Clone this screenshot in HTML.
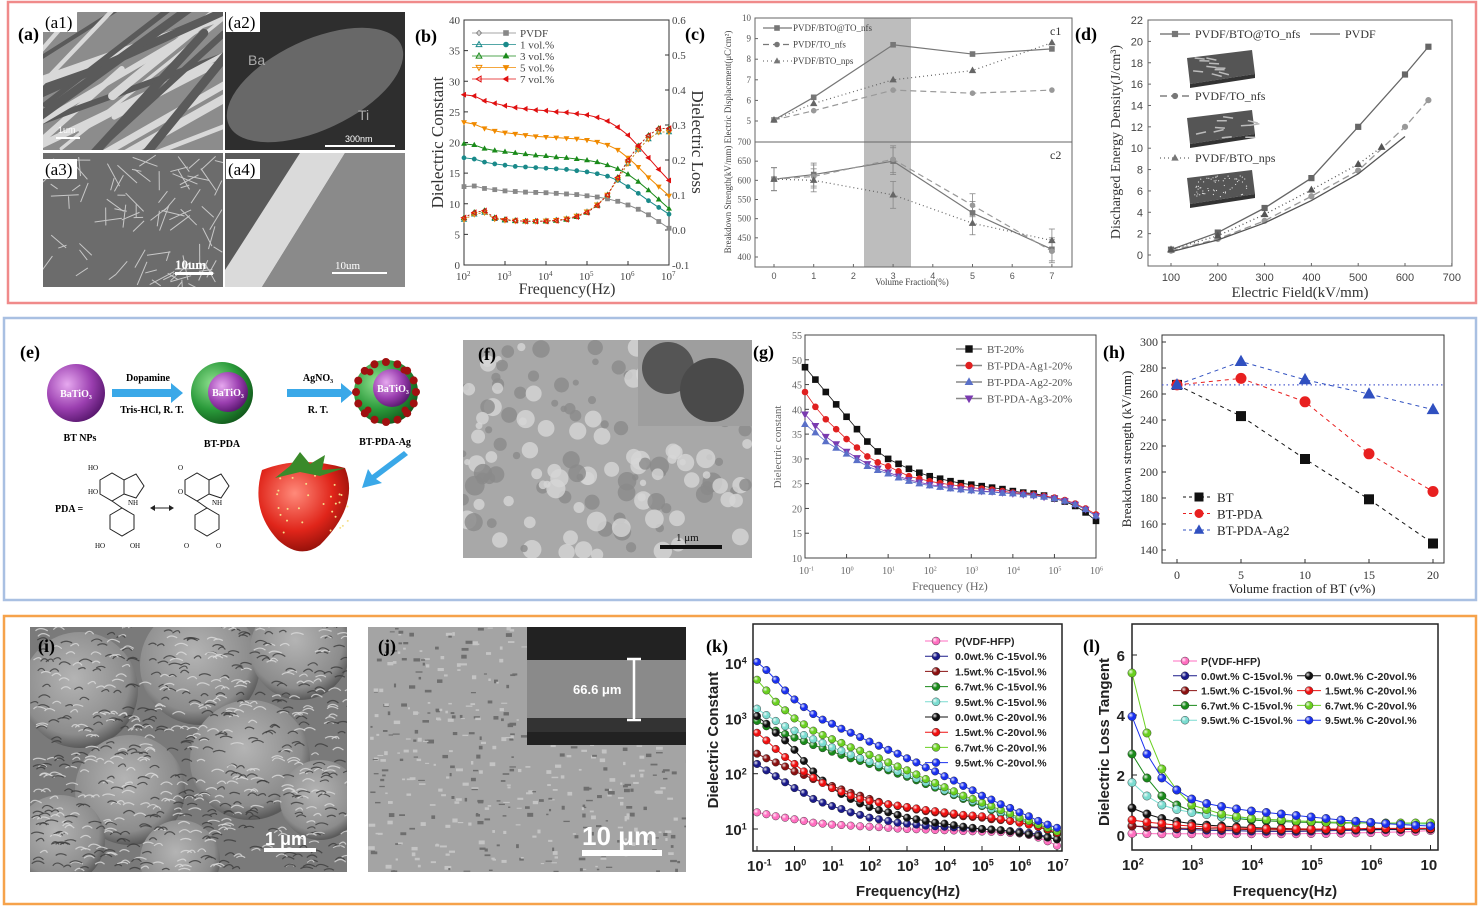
<!DOCTYPE html>
<html><head><meta charset="utf-8">
<style>
html,body{margin:0;padding:0;background:#fff;}
svg{display:block;}
.serif{font-family:"Liberation Serif",serif;}
.sans{font-family:"Liberation Sans",sans-serif;}
</style></head>
<body>
<svg id="fig" width="1480" height="906" viewBox="0 0 1480 906" xmlns="http://www.w3.org/2000/svg">
<defs>
<radialGradient id="gPurple" cx="35%" cy="35%" r="70%"><stop offset="0" stop-color="#e6a8ef"/><stop offset="0.6" stop-color="#9b3fb0"/><stop offset="1" stop-color="#5a1870"/></radialGradient>
<radialGradient id="gGreen" cx="35%" cy="35%" r="70%"><stop offset="0" stop-color="#8fe08f"/><stop offset="0.6" stop-color="#2a9a3a"/><stop offset="1" stop-color="#125a1c"/></radialGradient>
<radialGradient id="gRed" cx="40%" cy="35%" r="70%"><stop offset="0" stop-color="#ff8a7a"/><stop offset="0.6" stop-color="#e0251a"/><stop offset="1" stop-color="#8a0e08"/></radialGradient>
<radialGradient id="gBall" cx="35%" cy="35%" r="65%"><stop offset="0" stop-color="#fff" stop-opacity="0.9"/><stop offset="0.5" stop-color="#fff" stop-opacity="0"/></radialGradient>
<radialGradient id="gFlower" cx="45%" cy="40%" r="60%"><stop offset="0" stop-color="#b4b4b4"/><stop offset="0.8" stop-color="#8c8c8c"/><stop offset="1" stop-color="#5a5a5a"/></radialGradient>
</defs>
</svg>
<script>
// ---------- DATA ----------
// (b)
const bFreqLog=[2,2.25,2.5,2.75,3,3.25,3.5,3.75,4,4.25,4.5,4.75,5,5.25,5.5,5.75,6,6.25,6.5,6.75,7];
const bPVDF=[12.8,12.9,12.5,12.3,12.1,12,11.9,11.85,11.8,11.7,11.6,11.5,11.3,11.1,10.8,10.4,9.8,9.1,8.2,7.1,6.0];
const b1vol=[17.5,17.3,16.8,16.5,16.3,16.1,16,15.9,15.8,15.7,15.6,15.4,15.2,14.9,14.5,13.8,12.8,11.7,10.5,9.4,8.3];
const b3vol=[19.8,19.6,19.0,18.7,18.5,18.3,18.1,17.9,17.8,17.6,17.5,17.3,17.1,16.8,16.3,15.7,14.8,13.6,12.2,10.7,9.2];
const b5vol=[23.3,23,22.3,21.9,21.6,21.4,21.2,21.0,20.9,20.8,20.7,20.6,20.4,20.1,19.6,18.8,17.5,16,14.3,12.8,11.3];
const b7vol=[27.8,27.6,26.8,26.4,26.0,25.7,25.5,25.3,25.2,25.0,24.9,24.7,24.5,24.1,23.5,22.5,21.2,19.4,17.5,15.6,13.8];
const bLossA=[0.035,0.05,0.055,0.035,0.03,0.027,0.025,0.025,0.025,0.027,0.03,0.038,0.05,0.07,0.1,0.15,0.2,0.24,0.27,0.29,0.29];
const bLossB=[0.03,0.045,0.05,0.032,0.028,0.026,0.025,0.025,0.026,0.028,0.032,0.04,0.052,0.072,0.1,0.145,0.19,0.23,0.26,0.28,0.28];
const bYTicks=[0,5,10,15,20,25,30,35,40];
const bY2Ticks=[-0.1,0.0,0.1,0.2,0.3,0.4,0.5,0.6];
const bXTicks=[2,3,4,5,6,7];
// (c)
const cX=[0,1,3,5,7];
const cD_BTOTO=[5.05,6.15,8.7,8.25,8.5];
const cD_TO=[5.05,5.5,6.5,6.35,6.5];
const cD_NPS=[5.05,5.85,7.0,7.45,8.8];
const cE_BTOTO=[603,615,650,515,420];
const cE_TO=[603,610,655,535,415];
const cE_NPS=[603,600,562,488,443];
const cErr=[30,30,35,30,30];
const cY1Ticks=[5,6,7,8,9,10];
const cY2Ticks=[400,450,500,550,600,650,700];
const cXTicks=[0,1,2,3,4,5,6,7];
// (d)
const dX_BTOTO=[100,200,300,400,500,600,650];
const dY_BTOTO=[0.5,2.1,4.4,7.2,12.0,16.9,19.5];
const dX_TO=[100,200,300,400,500,600,650];
const dY_TO=[0.4,1.5,3.2,5.5,7.9,12.0,14.5];
const dX_NPS=[100,200,300,400,500,550];
const dY_NPS=[0.5,1.8,3.8,6.1,8.5,10.1];
const dX_PVDF=[100,200,300,400,500,600];
const dY_PVDF=[0.3,1.4,3.0,5.1,7.6,11.1];
const dYTicks=[0,2,4,6,8,10,12,14,16,18,20,22];
const dXTicks=[100,200,300,400,500,600,700];
// (g)
const gFreqLog=[-1,-0.75,-0.5,-0.25,0,0.25,0.5,0.75,1,1.25,1.5,1.75,2,2.25,2.5,2.75,3,3.25,3.5,3.75,4,4.25,4.5,4.75,5,5.25,5.5,5.75,6];
const gBT=[48.5,46,43.5,41,38.5,36,33.5,31.5,30,29,28,27.2,26.5,26,25.5,25.1,24.8,24.5,24.2,23.9,23.5,23.2,23,22.6,22,21.4,20.5,19.2,17.5];
const gAg1=[43.5,40.5,38,36,34,32.3,30.5,29.3,28.5,27.5,26.5,26,25.5,25.1,24.8,24.5,24.2,24,23.8,23.5,23.2,23,22.8,22.5,22.2,21.7,21,20,18.8];
const gAg2=[37,35.3,33.5,32.2,31,29.7,28.5,27.7,27,26.2,25.5,25,24.6,24.3,24,23.8,23.6,23.4,23.3,23.1,23,22.8,22.6,22.3,22,21.5,20.8,19.8,18.5];
const gAg3=[39,36.7,34.5,33,31.5,30.2,29,28.1,27.3,26.5,25.8,25.3,24.8,24.5,24.2,23.9,23.7,23.5,23.4,23.2,23,22.8,22.6,22.3,22,21.5,20.8,19.8,18.5];
const gYTicks=[10,15,20,25,30,35,40,45,50,55];
const gXTicks=[-1,0,1,2,3,4,5,6];
// (h)
const hX=[0,5,10,15,20];
const hBT=[267,243,210,179,145];
const hPDA=[267,272,254,214,185];
const hAg2=[267,285,271,260,248];
const hRef=267;
const hYTicks=[140,160,180,200,220,240,260,280,300];
const hXTicks=[0,5,10,15,20];
// (k)
const kFreqLog=[-1,-0.75,-0.5,-0.25,0,0.25,0.5,0.75,1,1.25,1.5,1.75,2,2.25,2.5,2.75,3,3.25,3.5,3.75,4,4.25,4.5,4.75,5,5.25,5.5,5.75,6,6.25,6.5,6.75,7];
const kP=[20,18.5,17,16,15,14,13,12.5,12,11.8,11.5,11.2,11,10.8,10.5,10.2,10,9.9,9.8,9.6,9.5,9.4,9.2,9.1,9,8.9,8.8,8.5,8.3,7.8,7,6,5];
const k00_15=[150,115,90,70,55,45,35,30,26,23,20,18,16,15,14,13,12.5,12,11.5,11.2,11,10.7,10.5,10.2,10,9.8,9.5,9.2,9,8.5,8,7.2,6.5];
const k15_15=[230,190,160,135,110,95,80,70,60,52,45,40,35,31,28,26,24,22.5,21,20,19,18,17,16.5,16,15,14.5,14,13,12,11,9.5,8];
const k67_15=[900,720,600,520,450,390,330,290,250,220,190,170,150,130,115,100,88,76,65,56,48,41,35,30,26,22,19,17,15,13,11,9.5,8];
const k95_15=[1500,1150,900,720,600,500,420,360,300,260,220,190,165,145,125,110,95,82,70,60,50,43,37,32,27,23,20,17,15,13.5,12,10.5,9];
const k00_20=[1100,800,550,400,270,170,110,75,55,43,35,29,25,22,20,18,16,15,14,13,12.5,11.7,11,10.5,10,9.7,9.5,9,8.5,8,7.5,7,6.5];
const k15_20=[550,400,280,200,150,110,85,68,55,47,40,35,32,30,28,26.5,25,23.5,22,21,20,19,18,17.5,17,16,15,14,13,12,11,9.8,8.5];
const k67_20=[5000,3200,2000,1400,1000,780,600,500,420,360,300,260,220,190,160,135,115,97,80,68,57,48,40,35,30,26,22,19,16,14,12,10.5,9];
const k95_20=[10500,7500,5000,3200,2200,1600,1200,950,800,650,550,460,380,320,270,230,190,160,130,110,90,75,60,50,40,34,28,24,20,17,14,12,10.5];
const kYTicks=[1,2,3,4];
const kXTicks=[-1,0,1,2,3,4,5,6,7];
// (l)
const lFreqLog=[2,2.25,2.5,2.75,3,3.25,3.5,3.75,4,4.25,4.5,4.75,5,5.25,5.5,5.75,6,6.25,6.5,6.75,7];
const lP=[0.05,0.045,0.04,0.04,0.04,0.04,0.04,0.04,0.04,0.04,0.04,0.04,0.05,0.05,0.06,0.07,0.08,0.09,0.1,0.12,0.15];
const l00_15=[0.3,0.26,0.22,0.2,0.18,0.16,0.15,0.14,0.13,0.12,0.12,0.12,0.13,0.14,0.15,0.16,0.17,0.18,0.18,0.19,0.2];
const l15_15=[0.3,0.28,0.25,0.23,0.22,0.21,0.2,0.19,0.18,0.17,0.17,0.17,0.17,0.18,0.18,0.19,0.2,0.21,0.22,0.22,0.22];
const l67_15=[2.7,1.9,1.3,1.0,0.8,0.7,0.6,0.55,0.5,0.47,0.45,0.43,0.42,0.41,0.4,0.4,0.4,0.39,0.38,0.38,0.38];
const l95_15=[1.75,1.3,1.0,0.85,0.75,0.68,0.6,0.57,0.55,0.52,0.5,0.47,0.45,0.43,0.42,0.41,0.4,0.39,0.38,0.37,0.36];
const l00_20=[0.9,0.7,0.55,0.45,0.38,0.33,0.3,0.27,0.25,0.23,0.22,0.21,0.2,0.2,0.2,0.2,0.2,0.2,0.2,0.2,0.2];
const l15_20=[0.5,0.43,0.38,0.33,0.3,0.27,0.25,0.23,0.22,0.21,0.2,0.2,0.2,0.2,0.2,0.21,0.22,0.22,0.22,0.22,0.22];
const l67_20=[5.4,3.4,2.2,1.5,1.0,0.85,0.7,0.62,0.55,0.52,0.5,0.47,0.45,0.43,0.42,0.41,0.4,0.4,0.4,0.4,0.4];
const l95_20=[3.95,2.7,1.9,1.5,1.2,1.05,0.95,0.87,0.8,0.75,0.7,0.65,0.6,0.55,0.5,0.46,0.42,0.38,0.35,0.32,0.3];
const lYTicks=[0,2,4,6];
const lXTicks=[2,3,4,5,6,7];

// ---------- HELPERS ----------
const NS='http://www.w3.org/2000/svg';
const svg=document.getElementById('fig');
function el(tag,a,p){const e=document.createElementNS(NS,tag);for(const k in a)e.setAttribute(k,a[k]);(p||svg).appendChild(e);return e;}
function grp(name,p){const g=el('g',{},p);


return g;}
function txt(p,x,y,s,a){const t=el('text',Object.assign({x:x,y:y},a||{}),p);t.textContent=s;return t;}
function supTxt(p,x,y,base,sup,a,supSize){const t=el('text',Object.assign({x:x,y:y},a||{}),p);
const s1=el('tspan',{},t);s1.textContent=base;
const s2=el('tspan',{dy:-(supSize*0.6),'font-size':supSize},t);s2.textContent=sup;return t;}
let seed=7;function rnd(){seed=(seed*16807)%2147483647;return seed/2147483647;}
function marker(p,type,x,y,r,color,filled,sw){
 const f=filled?color:'none', s=color, w=sw||1;let m;
 if(type==='sq') m=el('rect',{x:x-r,y:y-r,width:2*r,height:2*r,fill:f,stroke:s,'stroke-width':w},p);
 else if(type==='ci') m=el('circle',{cx:x,cy:y,r:r,fill:f,stroke:s,'stroke-width':w},p);
 else if(type==='tr') m=el('polygon',{points:`${x},${y-r*1.15} ${x-r*1.1},${y+r*0.8} ${x+r*1.1},${y+r*0.8}`,fill:f,stroke:s,'stroke-width':w},p);
 else if(type==='td') m=el('polygon',{points:`${x},${y+r*1.15} ${x-r*1.1},${y-r*0.8} ${x+r*1.1},${y-r*0.8}`,fill:f,stroke:s,'stroke-width':w},p);
 else if(type==='tl') m=el('polygon',{points:`${x-r*1.15},${y} ${x+r*0.8},${y-r*1.1} ${x+r*0.8},${y+r*1.1}`,fill:f,stroke:s,'stroke-width':w},p);
 else if(type==='di') m=el('polygon',{points:`${x},${y-r} ${x+r},${y} ${x},${y+r} ${x-r},${y}`,fill:f,stroke:s,'stroke-width':w},p);
 else if(type==='ball'){m=el('circle',{cx:x,cy:y,r:r,fill:color,stroke:'#222','stroke-width':0.4},p);el('circle',{cx:x,cy:y,r:r,fill:'url(#gBall)'},p);}
 return m;}
function series(p,name,xs,ys,sx,sy,color,mtype,r,filled,dash,lw){
 const g=grp(name,p);
 const pts=xs.map((v,i)=>sx(v)+','+sy(ys[i])).join(' ');
 if(lw!==0){const l=el('polyline',{points:pts,fill:'none',stroke:color,'stroke-width':lw||1},g);if(dash)l.setAttribute('stroke-dasharray',dash);
 
 }
 if(mtype) xs.forEach((v,i)=>{const m=marker(g,mtype,sx(v),sy(ys[i]),r,color,filled);
 
 });
 return g;}
function frame(p,x0,y0,x1,y1,c,w){const r=el('rect',{x:x0,y:y0,width:x1-x0,height:y1-y0,fill:'none',stroke:c||'#333','stroke-width':w||1},p);

return r;}
function panelLabel(x,y,s,cls){const t=txt(svg,x,y,s,{'font-size':18,'font-weight':'bold',class:cls||'serif',fill:'#000'});

}

// ---------- BORDERS ----------
[[8,2,1468,301,'#f08a8a'],[4,318,1472,282,'#a9c0e2'],[4,616,1472,288,'#f6a24a']].forEach((b,i)=>{
 const r=el('rect',{x:b[0],y:b[1],width:b[2],height:b[3],fill:'none',stroke:b[4],'stroke-width':2.5});
 
 });

// ---------- PHOTOS ----------
function photo(name,x,y,w,h,bg,kind){
 const g=grp(name);
 el('rect',{x:x,y:y,width:w,height:h,fill:bg},g);
 const cp='cp'+name;const c=el('clipPath',{id:cp},g);el('rect',{x:x,y:y,width:w,height:h},c);
 const gg=el('g',{'clip-path':`url(#${cp})`},g);
 if(kind==='fibers'){for(let i=0;i<22;i++){const x1=x+rnd()*w,y1=y+rnd()*h;const a=-0.9+rnd()*0.6;const L=80+rnd()*120;
  el('line',{x1:x1-L*Math.cos(a),y1:y1-L*Math.sin(a),x2:x1+L*Math.cos(a),y2:y1+L*Math.sin(a),stroke:rnd()>0.5?'#d8d8d8':'#5a5a5a','stroke-width':3+rnd()*6,'stroke-linecap':'round'},gg);}}
 else if(kind==='needles'){for(let i=0;i<90;i++){const x1=x+rnd()*w,y1=y+rnd()*h,a=rnd()*3.14,L=8+rnd()*20;
  el('line',{x1:x1,y1:y1,x2:x1+L*Math.cos(a),y2:y1+L*Math.sin(a),stroke:'#c8c8c8','stroke-width':1},gg);}}
 else if(kind==='bubbles'){for(let i=0;i<160;i++){el('circle',{cx:x+rnd()*w,cy:y+rnd()*h,r:3+rnd()*7,fill:rnd()>0.5?'#d6d6d6':'#8a8a8a',opacity:0.8},gg);}}
 else if(kind==='flowers'){const cs=[[80,690,58],[200,665,60],[300,650,50],[130,790,55],[250,760,60],[60,840,45],[320,800,40],[180,860,40]];
  cs.forEach(cc=>{el('circle',{cx:cc[0],cy:cc[1],r:cc[2],fill:'url(#gFlower)'},gg);});
  for(let k=0;k<700;k++){const px=x+rnd()*w,py=y+rnd()*h;
   el('path',{d:`M${px} ${py} q${3+rnd()*4} ${-3-rnd()*3} ${7+rnd()*6} 0`,stroke:rnd()>0.5?'#dcdcdc':'#3c3c3c','stroke-width':1.2,fill:'none',opacity:0.8},gg);}}
 else if(kind==='rough'){for(let i=0;i<500;i++){el('rect',{x:x+rnd()*w,y:y+rnd()*h,width:2+rnd()*5,height:1+rnd()*3,fill:rnd()>0.5?'#c4c4c4':'#6e6e6e'},gg);}}
 return g;}
photo('photo-a1',43,12,180,138,'#8c8c8c','fibers');
photo('photo-a2',225,12,180,138,'#2e2e2e','none');
el('ellipse',{cx:315,cy:85,rx:95,ry:45,fill:'#777',transform:'rotate(-25 315 85)',opacity:0.8});
photo('photo-a3',43,153,180,134,'#6c6c6c','needles');
photo('photo-a4',225,153,180,134,'#5a5a5a','none');
el('polygon',{points:'300,153 345,153 262,287 225,287 225,270',fill:'#e8e8e8',opacity:0.9});
el('polygon',{points:'345,153 405,153 405,287 262,287',fill:'#8a8a8a'});
[['(a1)',45,28],['(a2)',228,28],['(a3)',45,175],['(a4)',228,175]].forEach(l=>{
 el('rect',{x:l[1]-2,y:l[2]-16,width:34,height:20,fill:'#fff'});
 const t=txt(svg,l[1],l[2],l[0],{'font-size':17,class:'serif'});
 
 });
txt(svg,248,65,'Ba',{'font-size':14,fill:'#aaa',class:'sans'});
txt(svg,358,120,'Ti',{'font-size':14,fill:'#aaa',class:'sans'});
el('line',{x1:325,y1:146,x2:395,y2:146,stroke:'#fff','stroke-width':2});
txt(svg,345,142,'300nm',{'font-size':9,fill:'#fff',class:'sans'});
el('line',{x1:56,y1:138,x2:80,y2:138,stroke:'#fff','stroke-width':2});
txt(svg,58,133,'1um',{'font-size':9,fill:'#fff',class:'sans'});
el('rect',{x:175,y:272,width:38,height:3,fill:'#fff'});
txt(svg,175,269,'10um',{'font-size':13,'font-weight':'bold',fill:'#fff',class:'serif'});
el('rect',{x:332,y:272,width:55,height:2,fill:'#fff'});
txt(svg,335,269,'10um',{'font-size':11,fill:'#fff',class:'serif'});
panelLabel(18,40,'(a)');

photo('photo-f',463,340,289,218,'#a8a8a8','bubbles');
photo('photo-f-inset',638,340,114,86,'#9e9e9e','none');
el('circle',{cx:668,cy:368,r:26,fill:'#555'});el('circle',{cx:712,cy:390,r:32,fill:'#4a4a4a'});
el('rect',{x:660,y:545,width:62,height:4,fill:'#111'});
txt(svg,676,541,'1 μm',{'font-size':11,fill:'#111',class:'serif'});
panelLabel(478,360,'(f)');

photo('photo-i',30,627,317,245,'#7a7a7a','flowers');
el('rect',{x:264,y:848,width:52,height:4,fill:'#fff'});
txt(svg,265,845,'1 μm',{'font-size':18,'font-weight':'bold',fill:'#fff',class:'sans'});
panelLabel(38,652,'(i)');
photo('photo-j',368,627,318,245,'#a4a4a4','rough');
const jin=grp('photo-j-inset');
el('rect',{x:527,y:627,width:159,height:118,fill:'#222'},jin);
el('rect',{x:527,y:660,width:159,height:58,fill:'#8a8a8a'},jin);
el('rect',{x:527,y:718,width:159,height:14,fill:'#333'},jin);
el('line',{x1:634,y1:659,x2:634,y2:720,stroke:'#fff','stroke-width':2.5},jin);
el('line',{x1:627,y1:659,x2:641,y2:659,stroke:'#fff','stroke-width':2.5},jin);
el('line',{x1:627,y1:720,x2:641,y2:720,stroke:'#fff','stroke-width':2.5},jin);
txt(jin,573,694,'66.6 μm',{'font-size':13,'font-weight':'bold',fill:'#fff',class:'sans'});
el('rect',{x:582,y:850,width:80,height:6,fill:'#fff'});
txt(svg,582,845,'10 μm',{'font-size':26,'font-weight':'bold',fill:'#fff',class:'sans'});
panelLabel(378,652,'(j)');

// ---------- (e) schematic ----------
(function(){
 const g=grp('schematic-e');
 function arrow(x1,x2,y){el('polygon',{points:`${x1},${y-4} ${x2-12},${y-4} ${x2-12},${y-10} ${x2},${y} ${x2-12},${y+10} ${x2-12},${y+4} ${x1},${y+4}`,fill:'#3aa8e8'},g);}
 el('circle',{cx:76,cy:393,r:29,fill:'url(#gPurple)'},g);
 txt(g,76,397,'BaTiO₃',{'font-size':10,'font-weight':'bold',fill:'#fff','text-anchor':'middle',class:'serif'});
 arrow(112,183,393);
 txt(g,148,381,'Dopamine',{'font-size':10,'font-weight':'bold','text-anchor':'middle',class:'serif'});
 txt(g,152,413,'Tris-HCl, R. T.',{'font-size':10,'font-weight':'bold','text-anchor':'middle',class:'serif'});
 el('circle',{cx:222,cy:393,r:31,fill:'url(#gGreen)'},g);
 el('circle',{cx:228,cy:392,r:20,fill:'url(#gPurple)'},g);
 txt(g,228,396,'BaTiO₃',{'font-size':10,'font-weight':'bold',fill:'#fff','text-anchor':'middle',class:'serif'});
 arrow(287,353,393);
 txt(g,318,381,'AgNO₃',{'font-size':10,'font-weight':'bold','text-anchor':'middle',class:'serif'});
 txt(g,318,413,'R. T.',{'font-size':10,'font-weight':'bold','text-anchor':'middle',class:'serif'});
 el('circle',{cx:386,cy:392,r:32,fill:'url(#gGreen)'},g);
 el('circle',{cx:392,cy:388,r:19,fill:'url(#gPurple)'},g);
 txt(g,393,392,'BaTiO₃',{'font-size':10,'font-weight':'bold',fill:'#fff','text-anchor':'middle',class:'serif'});
 for(let i=0;i<16;i++){const a=i/16*6.28;el('circle',{cx:386+30*Math.cos(a),cy:392+30*Math.sin(a),r:4,fill:'#a01010'},g);}
 [[370,372],[405,410],[368,410],[404,370]].forEach(p=>el('circle',{cx:p[0],cy:p[1],r:3.5,fill:'#a01010'},g));
 txt(g,80,441,'BT NPs',{'font-size':10,'font-weight':'bold','text-anchor':'middle',class:'serif'});
 txt(g,222,447,'BT-PDA',{'font-size':10,'font-weight':'bold','text-anchor':'middle',class:'serif'});
 txt(g,385,445,'BT-PDA-Ag',{'font-size':10,'font-weight':'bold','text-anchor':'middle',class:'serif'});
 el('polygon',{points:'408,455 404,451 372,475 368,469 362,488 382,483 376,479',fill:'#3aa8e8'},g);
 el('path',{d:'M262 470 Q300 455 345 468 Q360 505 320 545 Q300 560 278 540 Q250 510 262 470Z',fill:'url(#gRed)'},g);
 for(let i=0;i<30;i++)el('circle',{cx:268+rnd()*80,cy:470+rnd()*70,r:1,fill:'#f6e08a'},g);
 el('path',{d:'M290 466 L300 452 L310 464 L325 455 L322 470 L345 468 L320 476 L300 472 L275 478Z',fill:'#3a8a2a'},g);
 txt(g,55,512,'PDA =',{'font-size':10,'font-weight':'bold',class:'serif'});
 [[100,480],[185,480]].forEach(o=>{
  el('polygon',{points:`${o[0]},${o[1]} ${o[0]+12},${o[1]-7} ${o[0]+24},${o[1]} ${o[0]+24},${o[1]+14} ${o[0]+12},${o[1]+21} ${o[0]},${o[1]+14}`,fill:'none',stroke:'#222'},g);
  el('polygon',{points:`${o[0]+10},${o[1]+35} ${o[0]+22},${o[1]+28} ${o[0]+34},${o[1]+35} ${o[0]+34},${o[1]+49} ${o[0]+22},${o[1]+56} ${o[0]+10},${o[1]+49}`,fill:'none',stroke:'#222'},g);
  el('polyline',{points:`${o[0]+24},${o[1]} ${o[0]+36},${o[1]-6} ${o[0]+44},${o[1]+6} ${o[0]+36},${o[1]+18} ${o[0]+24},${o[1]+14}`,fill:'none',stroke:'#222'},g);
  el('line',{x1:o[0]+12,y1:o[1]+21,x2:o[0]+22,y2:o[1]+28,stroke:'#222'},g);});
 txt(g,88,470,'HO',{'font-size':7,class:'serif'});txt(g,88,494,'HO',{'font-size':7,class:'serif'});
 txt(g,178,470,'O',{'font-size':7,class:'serif'});txt(g,178,494,'O',{'font-size':7,class:'serif'});
 txt(g,95,548,'HO',{'font-size':7,class:'serif'});txt(g,130,548,'OH',{'font-size':7,class:'serif'});
 txt(g,184,548,'O',{'font-size':7,class:'serif'});txt(g,216,548,'O',{'font-size':7,class:'serif'});
 txt(g,128,505,'NH',{'font-size':7,class:'serif'});txt(g,212,505,'NH',{'font-size':7,class:'serif'});
 el('line',{x1:152,y1:508,x2:172,y2:508,stroke:'#222'},g);
 el('polygon',{points:'150,508 155,505 155,511',fill:'#222'},g);el('polygon',{points:'174,508 169,505 169,511',fill:'#222'},g);
})();
panelLabel(20,358,'(e)');

// ---------- (b) ----------
(function(){
 const g=grp('chart-b');
 const x0=464,x1=669,y0=20,y1=265;
 const sx=v=>x0+(v-2)*(x1-x0)/5, sy=v=>y1-v*6.125, sy2=v=>y1-(v+0.1)*(y1-y0)/0.7;
 frame(g,x0,y0,x1,y1,'#333');
 bYTicks.forEach(v=>{el('line',{x1:x0,y1:sy(v),x2:x0+4,y2:sy(v),stroke:'#333'},g);txt(g,x0-4,sy(v)+4,String(v),{'font-size':11,'text-anchor':'end',fill:'#444',class:'serif'});});
 bY2Ticks.forEach(v=>{el('line',{x1:x1,y1:sy2(v),x2:x1-4,y2:sy2(v),stroke:'#333'},g);txt(g,x1+3,sy2(v)+4,v.toFixed(1),{'font-size':11,fill:'#444',class:'serif'});});
 bXTicks.forEach(v=>{el('line',{x1:sx(v),y1:y1,x2:sx(v),y2:y1-4,stroke:'#333'},g);supTxt(g,sx(v)-8,y1+15,'10',String(v),{'font-size':11,fill:'#444',class:'serif'},7);});
 const ser=[['PVDF',bPVDF,'#888','sq',bLossA,'di'],['1vol',b1vol,'#1a8a8a','ci',bLossB,'tr'],['3vol',b3vol,'#1a8a1a','tr',bLossA,'tr'],['5vol',b5vol,'#f08a00','td',bLossB,'td'],['7vol',b7vol,'#e01010','tl',bLossA,'tl']];
 ser.forEach(s=>{series(g,'dielectric-constant-'+s[0],bFreqLog,s[1],sx,sy,s[2],s[3],1.9,true,null,1);
  series(g,'dielectric-loss-'+s[0],bFreqLog,s[4],sx,sy2,s[2],s[5],2.2,false,'2,2',0.8);});
 const labels=['PVDF','1 vol.%','3 vol.%','5 vol.%','7 vol.%'];
 ser.forEach((s,i)=>{const y=33+i*11.5;const lg=grp('legend-entry',g);
  el('line',{x1:472,y1:y,x2:516,y2:y,stroke:s[2],'stroke-width':0.8},lg);
  marker(lg,s[5],479,y,2.6,s[2],false);marker(lg,s[3],506,y,2.3,s[2],true);
  txt(lg,520,y+4,labels[i],{'font-size':11,fill:'#444',class:'serif'});});
 txt(g,0,0,'Dielectric Constant',{'font-size':17,fill:'#333',class:'serif','text-anchor':'middle',transform:`translate(443,${(y0+y1)/2}) rotate(-90)`});
 txt(g,0,0,'Dielectric Loss',{'font-size':17,fill:'#333',class:'serif','text-anchor':'middle',transform:`translate(692,142) rotate(90)`});
 txt(g,567,294,'Frequency(Hz)',{'font-size':16,fill:'#333',class:'serif','text-anchor':'middle'});
})();
panelLabel(415,42,'(b)');

// ---------- (c) ----------
(function(){
 const g=grp('chart-c');
 const x0=755,x1=1072,y0=18,ym=142,y1=267;
 const sx=v=>774+v*39.7, sy1=v=>y0+(10-v)*20.6, sy2=v=>ym+(700-v)*0.3833;
 const band=el('rect',{x:864,y:y0,width:47,height:y1-y0,fill:'#bdbdbd'},g);
 
 
 frame(g,x0,y0,x1,y1,'#666');
 el('line',{x1:x0,y1:ym,x2:x1,y2:ym,stroke:'#666'},g);
 cY1Ticks.forEach(v=>{el('line',{x1:x0,y1:sy1(v),x2:x0+3,y2:sy1(v),stroke:'#666'},g);txt(g,x0-4,sy1(v)+3,String(v),{'font-size':9,'text-anchor':'end',fill:'#555',class:'serif'});});
 cY2Ticks.forEach(v=>{el('line',{x1:x0,y1:sy2(v),x2:x0+3,y2:sy2(v),stroke:'#666'},g);txt(g,x0-4,sy2(v)+3,String(v),{'font-size':9,'text-anchor':'end',fill:'#555',class:'serif'});});
 cXTicks.forEach(v=>{el('line',{x1:sx(v),y1:y1,x2:sx(v),y2:y1-3,stroke:'#666'},g);txt(g,sx(v),y1+12,String(v),{'font-size':9,'text-anchor':'middle',fill:'#555',class:'sans'});});
 series(g,'displacement-bto-at-to',cX,cD_BTOTO,sx,sy1,'#777','sq',2.3,true,null,1.2);
 series(g,'displacement-to',cX,cD_TO,sx,sy1,'#999','ci',2.3,true,'6,4',1.2);
 series(g,'displacement-bto-nps',cX,cD_NPS,sx,sy1,'#666','tr',2.6,true,'1,3',1.2);
 const eb=grp('error-bars',g);
 [cE_BTOTO,cE_TO,cE_NPS].forEach(arr=>cX.forEach((v,i)=>{el('line',{x1:sx(v),y1:sy2(arr[i]-cErr[i]),x2:sx(v),y2:sy2(arr[i]+cErr[i]),stroke:'#888','stroke-width':0.8},eb);
  el('line',{x1:sx(v)-3,y1:sy2(arr[i]-cErr[i]),x2:sx(v)+3,y2:sy2(arr[i]-cErr[i]),stroke:'#888','stroke-width':0.8},eb);
  el('line',{x1:sx(v)-3,y1:sy2(arr[i]+cErr[i]),x2:sx(v)+3,y2:sy2(arr[i]+cErr[i]),stroke:'#888','stroke-width':0.8},eb);}));
 series(g,'breakdown-bto-at-to',cX,cE_BTOTO,sx,sy2,'#777','sq',2.3,true,null,1.2);
 series(g,'breakdown-to',cX,cE_TO,sx,sy2,'#999','ci',2.3,true,'6,4',1.2);
 series(g,'breakdown-bto-nps',cX,cE_NPS,sx,sy2,'#666','tr',2.6,true,'1,3',1.2);
 [['PVDF/BTO@TO_nfs','sq',null],['PVDF/TO_nfs','ci','6,4'],['PVDF/BTO_nps','tr','1,3']].forEach((l,i)=>{const y=28+i*16.5;const lg=grp('legend-entry',g);
  const ln=el('line',{x1:763,y1:y,x2:792,y2:y,stroke:'#777','stroke-width':1.2},lg);if(l[2])ln.setAttribute('stroke-dasharray',l[2]);
  marker(lg,l[1],777,y,2.3,'#777',true);txt(lg,793,y+3,l[0],{'font-size':9,fill:'#444',class:'serif'});});
 txt(g,1050,35,'c1',{'font-size':12,fill:'#333',class:'serif'});
 txt(g,1050,159,'c2',{'font-size':12,fill:'#333',class:'serif'});
 txt(g,0,0,'Breakdown Strength(kV/mm) Electric Displacement(μC/cm²)',{'font-size':9,fill:'#444',class:'serif','text-anchor':'middle',transform:'translate(731,142) rotate(-90)'});
 txt(g,912,285,'Volume Fraction(%)',{'font-size':9,fill:'#444',class:'serif','text-anchor':'middle'});
})();
panelLabel(685,40,'(c)');

// ---------- (d) ----------
(function(){
 const g=grp('chart-d');
 const x0=1148,x1=1452,y0=20,y1=266;
 const sx=v=>1171+(v-100)*0.468, sy=v=>255-v*10.68;
 frame(g,x0,y0,x1,y1,'#666');
 dYTicks.forEach(v=>{el('line',{x1:x0,y1:sy(v),x2:x0+3,y2:sy(v),stroke:'#666'},g);txt(g,x0-5,sy(v)+4,String(v),{'font-size':11,'text-anchor':'end',fill:'#444',class:'sans'});});
 dXTicks.forEach(v=>{el('line',{x1:sx(v),y1:y1,x2:sx(v),y2:y1-3,stroke:'#666'},g);txt(g,sx(v),y1+15,String(v),{'font-size':11,'text-anchor':'middle',fill:'#444',class:'sans'});});
 series(g,'energy-bto-at-to',dX_BTOTO,dY_BTOTO,sx,sy,'#666','sq',2.6,true,null,1.3);
 series(g,'energy-to',dX_TO,dY_TO,sx,sy,'#999','ci',2.6,true,'7,4',1.3);
 series(g,'energy-bto-nps',dX_NPS,dY_NPS,sx,sy,'#555','tr',2.8,true,'1,3',1.3);
 series(g,'energy-pvdf',dX_PVDF,dY_PVDF,sx,sy,'#555',null,0,true,null,1.3);
 [['PVDF/BTO@TO_nfs',1160,34,'sq',null],['PVDF',1310,34,null,null],['PVDF/TO_nfs',1160,96,'ci','7,4'],['PVDF/BTO_nps',1160,158,'tr','1,3']].forEach(l=>{const lg=grp('legend-entry',g);
  const ln=el('line',{x1:l[1],y1:l[2],x2:l[1]+30,y2:l[2],stroke:'#666','stroke-width':1.3},lg);if(l[4])ln.setAttribute('stroke-dasharray',l[4]);
  if(l[3])marker(lg,l[3],l[1]+15,l[2],2.6,'#777',true);txt(lg,l[1]+35,l[2]+4,l[0],{'font-size':12,fill:'#333',class:'serif'});});
 [[50,false],[110,false],[170,true]].forEach((f,i)=>{const fg=grp('film-illustration',g);const y=f[0];
  el('polygon',{points:`1187,${y+8} 1252,${y} 1255,${y+24} 1190,${y+34}`,fill:'#555'},fg);
  el('polygon',{points:`1190,${y+34} 1255,${y+24} 1255,${y+28} 1190,${y+38}`,fill:'#333'},fg);
  for(let k=0;k<(f[1]?60:10);k++){const px=1192+rnd()*58,py=y+6+rnd()*22;
   if(f[1])el('circle',{cx:px,cy:py,r:0.6,fill:'#ddd'},fg);else el('line',{x1:px,y1:py,x2:px+10,y2:py-3+rnd()*6,stroke:'#bbb','stroke-width':1.5},fg);}});
 txt(g,0,0,'Discharged Energy Density(J/cm³)',{'font-size':14,fill:'#333',class:'serif','text-anchor':'middle',transform:'translate(1120,142) rotate(-90)'});
 txt(g,1300,297,'Electric Field(kV/mm)',{'font-size':15,fill:'#333',class:'serif','text-anchor':'middle'});
})();
panelLabel(1075,40,'(d)');

// ---------- (g) ----------
(function(){
 const g=grp('chart-g');
 const x0=805,x1=1096,y0=335,y1=558;
 const sx=v=>x0+(v+1)*(x1-x0)/7, sy=v=>y1-(v-10)*(y1-y0)/45;
 frame(g,x0,y0,x1,y1,'#444');
 gYTicks.forEach(v=>{el('line',{x1:x0,y1:sy(v),x2:x0+4,y2:sy(v),stroke:'#444'},g);txt(g,x0-3,sy(v)+4,String(v),{'font-size':10,'text-anchor':'end',fill:'#666',class:'serif'});});
 gXTicks.forEach(v=>{el('line',{x1:sx(v),y1:y1,x2:sx(v),y2:y1-4,stroke:'#444'},g);supTxt(g,sx(v)-6,y1+16,'10',String(v),{'font-size':10,fill:'#666',class:'serif'},6);});
 series(g,'bt-20',gFreqLog,gBT,sx,sy,'#111','sq',2.8,true,null,0.8);
 series(g,'bt-pda-ag1-20',gFreqLog,gAg1,sx,sy,'#e02020','ci',2.8,true,null,0.8);
 series(g,'bt-pda-ag3-20',gFreqLog,gAg3,sx,sy,'#7a3ab0','td',2.8,true,null,0.8);
 series(g,'bt-pda-ag2-20',gFreqLog,gAg2,sx,sy,'#5a70c8','tr',2.8,true,null,0.8);
 [['BT-20%','#111','sq'],['BT-PDA-Ag1-20%','#e02020','ci'],['BT-PDA-Ag2-20%','#5a70c8','tr'],['BT-PDA-Ag3-20%','#7a3ab0','td']].forEach((l,i)=>{const y=349+i*16.5;const lg=grp('legend-entry',g);
  el('line',{x1:956,y1:y,x2:982,y2:y,stroke:'#888','stroke-width':1.5},lg);marker(lg,l[2],969,y,3.2,l[1],true);
  txt(lg,987,y+4,l[0],{'font-size':11,fill:'#555',class:'serif'});});
 txt(g,0,0,'Dielectric constant',{'font-size':11,fill:'#666',class:'serif','text-anchor':'middle',transform:'translate(781,447) rotate(-90)'});
 txt(g,950,590,'Frequency (Hz)',{'font-size':12,fill:'#666',class:'serif','text-anchor':'middle'});
})();
panelLabel(753,358,'(g)');

// ---------- (h) ----------
(function(){
 const g=grp('chart-h');
 const x0=1162,x1=1444,y0=335,y1=563;
 const sx=v=>1177+v*12.8, sy=v=>550-(v-140)*1.3;
 frame(g,x0,y0,x1,y1,'#333');
 hYTicks.forEach(v=>{el('line',{x1:x0,y1:sy(v),x2:x0+4,y2:sy(v),stroke:'#333'},g);txt(g,x0-4,sy(v)+4,String(v),{'font-size':12,'text-anchor':'end',fill:'#333',class:'serif'});});
 hXTicks.forEach(v=>{el('line',{x1:sx(v),y1:y1,x2:sx(v),y2:y1-4,stroke:'#333'},g);txt(g,sx(v),y1+16,String(v),{'font-size':12,'text-anchor':'middle',fill:'#333',class:'serif'});});
 const ref=el('line',{x1:x0,y1:sy(hRef),x2:x1,y2:sy(hRef),stroke:'#5060d0','stroke-dasharray':'1.5,3','stroke-width':1.3},g);
 
 
 series(g,'bt',hX,hBT,sx,sy,'#111','sq',4.5,true,'4,4',1);
 series(g,'bt-pda',hX,hPDA,sx,sy,'#e82020','ci',5,true,'4,4',1);
 series(g,'bt-pda-ag2',hX,hAg2,sx,sy,'#3050c0','tr',5,true,'4,4',1);
 [['BT','#111','sq'],['BT-PDA','#e82020','ci'],['BT-PDA-Ag2','#3050c0','tr']].forEach((l,i)=>{const y=497+i*16.5;const lg=grp('legend-entry',g);
  el('line',{x1:1183,y1:y,x2:1213,y2:y,stroke:l[1],'stroke-dasharray':'3,3'},lg);marker(lg,l[2],1199,y,4,l[1],true);
  txt(lg,1217,y+5,l[0],{'font-size':13,fill:'#222',class:'serif'});});
 txt(g,0,0,'Breakdown strength (kV/mm)',{'font-size':13,fill:'#222',class:'serif','text-anchor':'middle',transform:'translate(1131,449) rotate(-90)'});
 txt(g,1302,593,'Volume fraction of BT (v%)',{'font-size':13,fill:'#222',class:'serif','text-anchor':'middle'});
})();
panelLabel(1103,358,'(h)');

// ---------- (k) ----------
(function(){
 const g=grp('chart-k');
 const x0=753,x1=1062,y0=624,y1=851;
 const sx=v=>757+(v+1)*37.5, sy=v=>829-(Math.log10(v)-1)*55.3;
 frame(g,x0,y0,x1,y1,'#222',1.5);
 kYTicks.forEach(e=>{const y=829-(e-1)*55.3;el('line',{x1:x0,y1:y,x2:x0+5,y2:y,stroke:'#222'},g);supTxt(g,x0-28,y+6,'10',String(e),{'font-size':15,'font-weight':'bold',fill:'#222',class:'sans'},9);});
 kXTicks.forEach(v=>{el('line',{x1:sx(v),y1:y1,x2:sx(v),y2:y1-5,stroke:'#222'},g);supTxt(g,sx(v)-10,y1+20,'10',String(v),{'font-size':15,'font-weight':'bold',fill:'#222',class:'sans'},9);});
 const ks=[['P(VDF-HFP)',kP,'#ff6ec0'],['0.0wt.% C-15vol.%',k00_15,'#1a1a8a'],['1.5wt.% C-15vol.%',k15_15,'#8a1010'],['6.7wt.% C-15vol.%',k67_15,'#1a8a1a'],['9.5wt.% C-15vol.%',k95_15,'#7adcd0'],['0.0wt.% C-20vol.%',k00_20,'#111'],['1.5wt.% C-20vol.%',k15_20,'#f01010'],['6.7wt.% C-20vol.%',k67_20,'#6ad020'],['9.5wt.% C-20vol.%',k95_20,'#1a30f0']];
 ks.forEach(s=>series(g,'series-'+s[0].replace(/[^a-z0-9]+/gi,'-').toLowerCase(),kFreqLog,s[1],sx,sy,s[2],'ball',3.8,true,null,1));
 ks.forEach((s,i)=>{const y=641+i*15.2;const lg=grp('legend-entry',g);
  el('line',{x1:925,y1:y,x2:948,y2:y,stroke:s[2]},lg);marker(lg,'ball',936,y,4,s[2],true);
  txt(lg,955,y+4,s[0],{'font-size':10.5,'font-weight':'bold',fill:'#222',class:'sans'});});
 txt(g,0,0,'Dielectric Constant',{'font-size':15,'font-weight':'bold',fill:'#222',class:'sans','text-anchor':'middle',transform:'translate(718,740) rotate(-90)'});
 txt(g,908,896,'Frequency(Hz)',{'font-size':15,'font-weight':'bold',fill:'#222',class:'sans','text-anchor':'middle'});
})();
panelLabel(706,652,'(k)');

// ---------- (l) ----------
(function(){
 const g=grp('chart-l');
 const x0=1132,x1=1438,y0=624,y1=850;
 const sx=v=>1132+(v-2)*59.7, sy=v=>835-v*30;
 frame(g,x0,y0,x1,y1,'#222',1.5);
 lYTicks.forEach(v=>{el('line',{x1:x0,y1:sy(v),x2:x0+5,y2:sy(v),stroke:'#222'},g);txt(g,x0-7,sy(v)+6,String(v),{'font-size':15,'font-weight':'bold','text-anchor':'end',fill:'#222',class:'sans'});});
 lXTicks.forEach(v=>{el('line',{x1:sx(v),y1:y1,x2:sx(v),y2:y1-5,stroke:'#222'},g);
  if(v<7)supTxt(g,sx(v)-10,y1+20,'10',String(v),{'font-size':15,'font-weight':'bold',fill:'#222',class:'sans'},9);
  else txt(g,sx(v)-10,y1+20,'10',{'font-size':15,'font-weight':'bold',fill:'#222',class:'sans'});});
 const ls=[['P(VDF-HFP)',lP,'#ff6ec0'],['0.0wt.% C-15vol.%',l00_15,'#1a1a8a'],['1.5wt.% C-15vol.%',l15_15,'#8a1010'],['6.7wt.% C-15vol.%',l67_15,'#1a8a1a'],['9.5wt.% C-15vol.%',l95_15,'#7adcd0'],['0.0wt.% C-20vol.%',l00_20,'#111'],['1.5wt.% C-20vol.%',l15_20,'#f01010'],['6.7wt.% C-20vol.%',l67_20,'#6ad020'],['9.5wt.% C-20vol.%',l95_20,'#1a30f0']];
 ls.forEach(s=>series(g,'series-'+s[0].replace(/[^a-z0-9]+/gi,'-').toLowerCase(),lFreqLog,s[1],sx,sy,s[2],'ball',4.2,true,null,1));
 const pos=[[0,0],[1,0],[2,0],[3,0],[4,0],[1,1],[2,1],[3,1],[4,1]];
 ls.forEach((s,i)=>{const y=661+pos[i][0]*14.8, x=1173+pos[i][1]*124;const lg=grp('legend-entry',g);
  el('line',{x1:x,y1:y,x2:x+24,y2:y,stroke:s[2]},lg);marker(lg,'ball',x+12,y,4,s[2],true);
  txt(lg,x+28,y+4,s[0],{'font-size':10.5,'font-weight':'bold',fill:'#222',class:'sans'});});
 txt(g,0,0,'Dielectric Loss Tangent',{'font-size':15,'font-weight':'bold',fill:'#222',class:'sans','text-anchor':'middle',transform:'translate(1109,742) rotate(-90)'});
 txt(g,1285,896,'Frequency(Hz)',{'font-size':15,'font-weight':'bold',fill:'#222',class:'sans','text-anchor':'middle'});
})();
panelLabel(1083,652,'(l)');
</script>
</body></html>
